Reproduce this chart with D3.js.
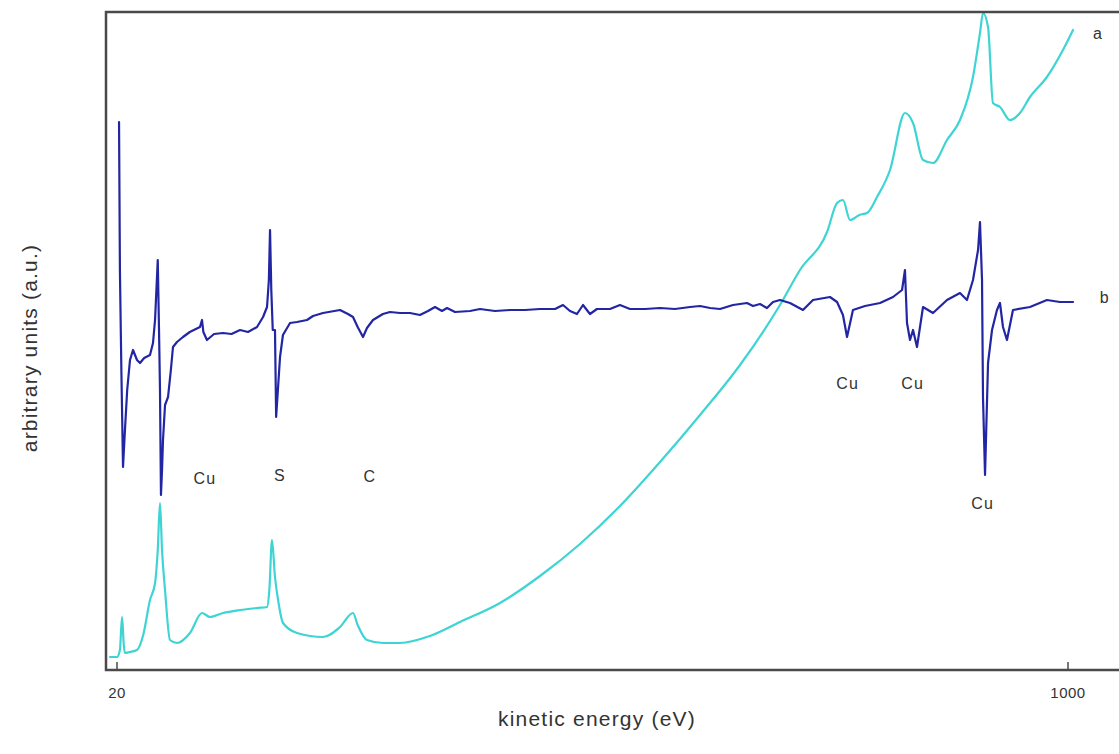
<!DOCTYPE html>
<html>
<head>
<meta charset="utf-8">
<script src="https://cdn.jsdelivr.net/npm/d3@7"></script>
<style>
    body { margin: 0; background: #fff; }
    svg { display: block; font-family: "Liberation Sans", Arial, sans-serif; }
    .frame { stroke: #4a4a4a; stroke-width: 2.5; fill: none; }
    .line { fill: none; stroke-linejoin: round; stroke-linecap: round; }
    .peak-label { font-size: 16px; letter-spacing: 1.2px; fill: #333; }
    .axis-label { font-size: 21px; letter-spacing: 1.2px; fill: #333; }
    .tick-label { font-size: 15px; letter-spacing: 0.5px; fill: #333; }
</style>
</head>
<body>
<svg id="chart"></svg>
<script>
// spectrum a (cyan): [kinetic energy eV, intensity a.u.]
var spectrumA = [
    [12.8, 13], [20, 13], [23, 20], [25.2, 53], [27, 25], [28.2, 17], [33, 18], [40.6, 20],
    [47, 35], [54, 70], [59.2, 87], [62, 120], [64.3, 167], [66.4, 120], [69.5, 80], [74.6, 30],
    [81.8, 27], [95.2, 37], [107.6, 57], [115.8, 53], [129.2, 57], [146.8, 60], [164.3, 62],
    [174.6, 63], [177, 80], [179.7, 130], [182.8, 93], [186, 70], [191.1, 47], [205.5, 37],
    [232.3, 33], [249.8, 43], [263.2, 57], [268, 45], [277.6, 30], [294.1, 27], [311.6, 27],
    [342.5, 34], [373.5, 48], [414.7, 67], [455.9, 94], [497.1, 126], [538.3, 164],
    [579.6, 208], [620.8, 255], [662, 305], [703.2, 365], [723.8, 400], [751.7, 438],
    [762, 467], [768.1, 470], [775.4, 450], [785, 455], [792.9, 457], [803.2, 473],
    [816.6, 500], [832, 557], [840.3, 547], [850.6, 510], [860.9, 507], [875.3, 530],
    [888.7, 550], [902.1, 593], [909.3, 637], [912.4, 657], [917.6, 643], [922.7, 567],
    [929.9, 563], [940.2, 550], [950.5, 557], [960.8, 573], [978.3, 593], [994.8, 620],
    [1005.2, 640]
];

// spectrum b (dark blue, derivative): [kinetic energy eV, intensity a.u.]
var spectrumB = [
    [22.1, 548], [23, 400], [24.5, 300], [26.2, 203], [28.2, 240], [30.5, 280], [33.4, 310],
    [36.5, 320], [40.6, 310], [43.7, 307], [48, 312], [54, 315], [57.1, 327], [59.2, 350],
    [62, 410], [63.3, 340], [64.3, 280], [65.3, 175], [66.4, 200], [67.4, 230], [69.5, 265],
    [72.6, 273], [75.5, 300], [77.7, 323], [81.8, 328], [88, 333], [95, 338], [105.5, 343],
    [107.6, 350], [109, 338], [112.7, 330], [120, 336], [129.2, 337], [138, 336],
    [146.8, 340], [155, 338], [164.3, 343], [170.5, 353], [174.6, 363], [176.5, 390],
    [177.7, 440], [179, 380], [180.5, 340], [182.8, 340], [184, 253], [188, 313], [191, 335],
    [198.3, 347], [205.5, 348], [215.8, 350], [222, 354], [232.3, 357], [249.8, 360],
    [258, 356], [263.2, 353], [268, 343], [273.5, 333], [277.6, 342], [283.8, 350],
    [294, 356], [301.3, 358], [311.6, 357], [321.9, 357], [332.2, 355], [340.5, 359],
    [347.7, 363], [354.9, 359], [360.1, 362], [368.3, 358], [383.8, 359], [394.1, 361],
    [409.5, 359], [425, 360], [440.4, 360], [455.9, 361], [471.4, 361], [479.6, 365],
    [486.8, 359], [494, 356], [500.2, 365], [507.4, 356], [514.6, 361], [528, 361],
    [538.3, 365], [548.6, 361], [564.1, 361], [579.6, 362], [595, 361], [610.5, 363],
    [620.8, 364], [631.1, 362], [641.4, 361], [654.8, 365], [669.2, 367], [675.4, 364],
    [682.6, 366], [689.8, 362], [696, 368], [703.2, 370], [713.5, 367], [726.9, 360],
    [737.2, 370], [754.7, 373], [762, 368], [768.1, 355], [772.3, 333], [778.4, 360],
    [790.8, 364], [806.3, 367], [819.7, 373], [829, 380], [832, 400], [834.1, 347],
    [837.2, 330], [840.3, 340], [844.4, 323], [850.6, 363], [860.9, 357], [875.3, 370],
    [888.7, 377], [895.9, 370], [902.1, 390], [907.3, 420], [909.3, 448], [911.4, 390],
    [912.4, 273], [914.5, 195], [917.6, 307], [921.7, 340], [926.8, 360], [929.9, 367],
    [933, 343], [937.1, 330], [943.3, 360], [960.8, 363], [978.3, 370], [991.7, 368],
    [1005.2, 368]
];

var xTicks = [20, 1000];

// element labels: [text, eV, a.u.]
var peakLabels = [
    ['Cu', 110.7, 192], ['S', 188, 195], ['C', 280.7, 194],
    ['Cu', 773, 287], ['Cu', 840, 287], ['Cu', 912, 167]
];
// curve names: [text, eV, a.u.]
var curveNames = [['a', 1031, 637], ['b', 1038, 373]];

(function () {
    var WIDTH = 1119, HEIGHT = 754;
    var FRAME = {left: 106, top: 12, bottom: 670, right: 1119};

    var svg = d3.select('#chart').attr('width', WIDTH).attr('height', HEIGHT);

    var xScale = d3.scaleLinear().domain([20, 1000]).range([117, 1068]);
    var yScale = d3.scaleLinear().domain([0, 658]).range([FRAME.bottom, FRAME.top]);

    function drawFrame() {
        svg.append('path').attr('class', 'frame')
            .attr('d', 'M' + FRAME.right + ',' + FRAME.top + 'H' + FRAME.left +
                'V' + FRAME.bottom + 'H' + FRAME.right);

        // inward ticks on the bottom axis
        svg.selectAll('.tick-mark').data(xTicks).enter().append('line')
            .attr('class', 'tick-mark')
            .attr('x1', function(d) { return xScale(d); })
            .attr('x2', function(d) { return xScale(d); })
            .attr('y1', FRAME.bottom).attr('y2', FRAME.bottom - 8)
            .style('stroke', '#4a4a4a').style('stroke-width', 1.5);

        svg.selectAll('.tick-label').data(xTicks).enter().append('text')
            .attr('class', 'tick-label')
            .attr('x', function(d) { return xScale(d); })
            .attr('y', FRAME.bottom + 28)
            .style('text-anchor', 'middle')
            .text(function(d) { return d; });

        svg.append('text').attr('class', 'axis-label')
            .attr('x', 597).attr('y', 726)
            .style('text-anchor', 'middle')
            .text('kinetic energy (eV)');

        svg.append('text').attr('class', 'axis-label')
            .attr('transform', 'translate(37, 348) rotate(-90)')
            .style('text-anchor', 'middle')
            .text('arbitrary units (a.u.)');
    }

    function drawCurve(data, color, curve) {
        var line = d3.line()
            .curve(curve)
            .x(function(d) { return xScale(d[0]); })
            .y(function(d) { return yScale(d[1]); });
        svg.append('path').datum(data).attr('class', 'line').attr('d', line)
            .style('stroke', color).style('stroke-width', 2.2);
    }

    function drawLabels(labels, cls) {
        svg.selectAll('.' + cls).data(labels).enter().append('text')
            .attr('class', 'peak-label ' + cls)
            .attr('x', function(d) { return xScale(d[1]); })
            .attr('y', function(d) { return yScale(d[2]); })
            .attr('dy', '.35em')
            .style('text-anchor', 'middle')
            .text(function(d) { return d[0]; });
    }

    drawCurve(spectrumA, '#3fd4d4', d3.curveMonotoneX);
    drawCurve(spectrumB, '#2226a2', d3.curveLinear);
    drawFrame();
    drawLabels(peakLabels, 'element');
    drawLabels(curveNames, 'curve-name');
}());
</script>
</body>
</html>
